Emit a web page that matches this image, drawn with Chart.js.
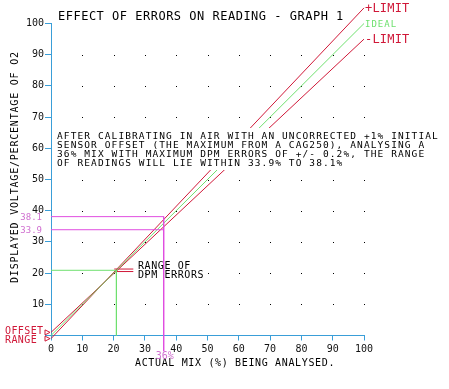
<!DOCTYPE html>
<html><head><meta charset="utf-8">
<script src="https://cdn.jsdelivr.net/npm/chart.js@4/dist/chart.umd.min.js"></script>
<style>html,body{margin:0;padding:0;background:#fff;}canvas{display:block;}</style>
</head><body>
<canvas id="c" width="449" height="389"></canvas>
<script>
// ---- data ----
const xTickValues = [0,10,20,30,40,50,60,70,80,90,100];
const yTickValues = [0,10,20,30,40,50,60,70,80,90,100];
const idealX = [0, 100];
const idealY = [0, 100];
const plusLimitX = [0, 100];
const plusLimitY = [-1, 105];
const minusLimitX = [0, 100];
const minusLimitY = [1, 95];
const airMix = 20.9;          // calibration point (air)
const sampleMix = 36;         // analysed mix
const readingHigh = 38.1;
const readingLow = 33.9;
const dpmMarkerX = [20.2, 26.3];
const dpmMarkerY = [21.3, 20.5];
const offsetRange = [1, -1];
const sampleLineBottom = -5;

const titleText = 'EFFECT OF ERRORS ON READING - GRAPH 1';
const noteLines = [
  'AFTER CALIBRATING IN AIR WITH AN UNCORRECTED +1% INITIAL',
  'SENSOR OFFSET (THE MAXIMUM FROM A CAG250), ANALYSING A',
  '36% MIX WITH MAXIMUM DPM ERRORS OF +/- 0.2%, THE RANGE',
  'OF READINGS WILL LIE WITHIN 33.9% TO 38.1%'
];
const xTitle = 'ACTUAL MIX (%) BEING ANALYSED.';
const yTitle = 'DISPLAYED VOLTAGE/PERCENTAGE OF O2';

// ---- styles ----
const BLUE = '#3a9ed8';
const RED = '#d01838';
const GREEN = '#6ee06e';
const MAG = '#e04ee0';
const MAGL = '#d070d0';
const MONO = '"DejaVu Sans Mono", monospace';

const pts = (xs, ys) => xs.map((x, i) => ({x, y: ys[i]}));
const ds = (data, color) => ({data, borderColor: color, borderWidth: 1, pointRadius: 0, showLine: true, fill: false, clip: false, tension: 0});

const datasets = [
  ds(pts([0, airMix], [airMix, airMix]), GREEN),
  ds(pts([airMix, airMix], [airMix, 0]), GREEN),
  ds(pts([0, sampleMix], [readingHigh, readingHigh]), MAG),
  ds(pts([0, sampleMix], [readingLow, readingLow]), MAG),
  ds(pts([sampleMix, sampleMix], [readingHigh, sampleLineBottom]), MAG),
  ds(pts(idealX, idealY), GREEN),
  ds(pts(plusLimitX, plusLimitY), RED),
  ds(pts(minusLimitX, minusLimitY), RED),
  ds(pts(dpmMarkerX, [dpmMarkerY[0], dpmMarkerY[0]]), RED),
  ds(pts(dpmMarkerX, [dpmMarkerY[1], dpmMarkerY[1]]), RED),
];

function txt(ctx, s, x, y, font, color, align, spacing) {
  ctx.save();
  ctx.font = font; ctx.fillStyle = color;
  ctx.textAlign = align || 'left'; ctx.textBaseline = 'middle';
  try { ctx.letterSpacing = (spacing || 0) + 'px'; } catch (e) {}
  ctx.fillText(s, x, y);
  ctx.restore();
}

const dotsPlugin = {
  id: 'dots',
  beforeDatasetsDraw(chart) {
    const {ctx, scales: {x, y}} = chart;
    ctx.save(); ctx.fillStyle = '#000';
    for (const xv of xTickValues) {
      if (xv === 0) continue;
      for (const yv of yTickValues) {
        if (yv === 0 || yv === 100) continue;
        ctx.fillRect(Math.round(x.getPixelForValue(xv)), Math.round(y.getPixelForValue(yv)), 1, 1);
      }
    }
    ctx.restore();
  }
};

const textPlugin = {
  id: 'texts',
  afterDatasetsDraw(chart) {
    const {ctx, scales: {x, y}} = chart;
    // white box behind the note
    ctx.save(); ctx.fillStyle = '#fff'; ctx.fillRect(54, 128, 388, 42); ctx.restore();
    txt(ctx, titleText, 58, 17, '12px ' + MONO, '#000', 'left', 0.5);
    noteLines.forEach((l, i) => txt(ctx, l, 57, 137 + i * 9, '9.5px ' + MONO, '#000', 'left', 1.1));
    const x100 = x.getPixelForValue(100);
    txt(ctx, '+LIMIT', x100 + 1, y.getPixelForValue(plusLimitY[1]) + 1, '12px ' + MONO, RED, 'left', 0.2);
    txt(ctx, 'IDEAL', x100 + 1, y.getPixelForValue(idealY[1]) + 1, '9px ' + MONO, GREEN, 'left', 1);
    txt(ctx, '-LIMIT', x100 + 1, y.getPixelForValue(minusLimitY[1]) + 1, '12px ' + MONO, RED, 'left', 0.2);
    // x title
    txt(ctx, xTitle, 135, 363, '10px ' + MONO, '#000', 'left', 0.65);
    // y title
    ctx.save(); ctx.translate(15, 283); ctx.rotate(-Math.PI / 2);
    txt(ctx, yTitle, 0, 0, '10px ' + MONO, '#000', 'left', 0.8);
    ctx.restore();
    // reading labels
    txt(ctx, String(readingHigh), 42, y.getPixelForValue(readingHigh) + 1, '9px ' + MONO, MAGL, 'right', 0);
    txt(ctx, String(readingLow), 42, y.getPixelForValue(readingLow) + 1, '9px ' + MONO, MAGL, 'right', 0);
    txt(ctx, sampleMix + '%', x.getPixelForValue(sampleMix) + 1, 356, '10px ' + MONO, MAGL, 'center', 0);
    // DPM range note
    txt(ctx, 'RANGE OF', 138, 266, '10px ' + MONO, '#000', 'left', 0.6);
    txt(ctx, 'DPM ERRORS', 138, 275, '10px ' + MONO, '#000', 'left', 0.6);
    // offset range
    txt(ctx, 'OFFSET', 5, 331, '10px ' + MONO, RED, 'left', 0.4);
    txt(ctx, 'RANGE', 5, 340, '10px ' + MONO, RED, 'left', 0.4);
    const x0 = x.getPixelForValue(0);
    ctx.save(); ctx.strokeStyle = RED; ctx.lineWidth = 1;
    offsetRange.forEach(v => {
      const py = y.getPixelForValue(v);
      ctx.beginPath();
      ctx.moveTo(x0 - 6, py - 2.5); ctx.lineTo(x0 - 1, py); ctx.lineTo(x0 - 6, py + 2.5); ctx.closePath();
      ctx.stroke();
    });
    ctx.restore();
  }
};

new Chart(document.getElementById('c'), {
  type: 'scatter',
  data: {datasets},
  options: {
    responsive: false, animation: false, devicePixelRatio: 1,
    layout: {padding: {top: 23.5, right: 85, left: 0, bottom: 0}},
    plugins: {legend: {display: false}, tooltip: {enabled: false}, title: {display: false}},
    scales: {
      x: {
        type: 'linear', min: 0, max: 100,
        afterBuildTicks: s => { s.ticks = xTickValues.map(v => ({value: v})); },
        afterFit: s => { s.height = 53.5; },
        ticks: {font: {family: MONO, size: 10}, color: '#111', padding: 3, maxRotation: 0},
        grid: {drawOnChartArea: false, drawTicks: true, tickLength: 5, color: BLUE},
        border: {color: BLUE, width: 1}
      },
      y: {
        type: 'linear', min: 0, max: 100,
        afterBuildTicks: s => { s.ticks = yTickValues.map(v => ({value: v})); },
        afterFit: s => { s.width = 51; },
        ticks: {font: {family: MONO, size: 10}, color: '#111', padding: 1, callback: v => v === 0 ? '' : v},
        grid: {drawOnChartArea: false, drawTicks: true, tickLength: 6, color: BLUE},
        border: {color: BLUE, width: 1}
      }
    }
  },
  plugins: [dotsPlugin, textPlugin]
});
</script>
</body></html>
